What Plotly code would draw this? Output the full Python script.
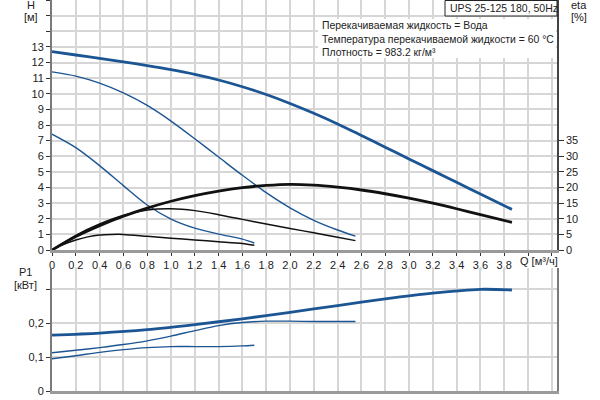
import plotly.graph_objects as go

# ---------------- data ----------------
q_h_max = [0, 0.2, 0.4, 0.6, 0.8, 1.0, 1.2, 1.4, 1.6, 1.8, 2.0, 2.2, 2.4, 2.6, 2.8, 3.0, 3.2, 3.4, 3.6, 3.865]
h_max = [12.7, 12.48, 12.26, 12.04, 11.80, 11.54, 11.24, 10.88, 10.45, 9.95, 9.38, 8.75, 8.07, 7.33, 6.58, 5.83, 5.08, 4.33, 3.58, 2.6]

q_h_mid = [0, 0.2, 0.4, 0.6, 0.8, 1.0, 1.2, 1.4, 1.6, 1.8, 2.0, 2.2, 2.4, 2.55]
h_mid = [11.4, 11.13, 10.68, 10.05, 9.25, 8.25, 7.12, 5.95, 4.78, 3.67, 2.70, 1.90, 1.28, 0.89]

q_h_low = [0, 0.2, 0.4, 0.6, 0.8, 1.0, 1.2, 1.4, 1.6, 1.7]
h_low = [7.41, 6.55, 5.4, 4.12, 2.88, 1.98, 1.4, 1.02, 0.7, 0.45]

q_eta_max = [0, 0.2, 0.4, 0.6, 0.8, 1.0, 1.2, 1.4, 1.6, 1.8, 2.0, 2.2, 2.4, 2.6, 2.8, 3.0, 3.2, 3.4, 3.6, 3.865]
eta_max = [0, 4.3, 7.8, 10.8, 13.4, 15.6, 17.4, 18.85, 19.95, 20.65, 21.0, 20.75, 20.1, 19.2, 18.0, 16.6, 15.0, 13.2, 11.3, 8.85]

q_eta_mid = [0, 0.2, 0.4, 0.6, 0.8, 1.0, 1.2, 1.4, 1.6, 1.8, 2.0, 2.2, 2.4, 2.55]
eta_mid = [0, 4.7, 8.3, 11.1, 12.8, 13.2, 12.6, 11.3, 9.8, 8.3, 6.9, 5.5, 4.1, 3.0]

q_eta_low = [0, 0.1, 0.2, 0.3, 0.4, 0.5, 0.6, 0.8, 1.0, 1.2, 1.4, 1.6, 1.7]
eta_low = [0, 1.8, 3.2, 4.2, 4.8, 5.0, 5.0, 4.4, 3.8, 3.2, 2.66, 2.1, 1.5]

q_p_max = [0, 0.4, 0.8, 1.2, 1.6, 2.0, 2.4, 2.8, 3.2, 3.6, 3.865]
p_max = [0.165, 0.171, 0.181, 0.196, 0.213, 0.232, 0.252, 0.272, 0.289, 0.300, 0.298]

q_p_mid = [0, 0.2, 0.4, 0.6, 0.8, 1.0, 1.2, 1.4, 1.6, 1.8, 2.0, 2.2, 2.4, 2.55]
p_mid = [0.113, 0.12, 0.128, 0.137, 0.148, 0.162, 0.178, 0.193, 0.202, 0.206, 0.206, 0.205, 0.205, 0.205]

q_p_low = [0, 0.2, 0.4, 0.6, 0.8, 1.0, 1.2, 1.4, 1.6, 1.7]
p_low = [0.095, 0.104, 0.114, 0.122, 0.128, 0.131, 0.131, 0.131, 0.133, 0.135]

x_ticks = [0, 0.2, 0.4, 0.6, 0.8, 1.0, 1.2, 1.4, 1.6, 1.8, 2.0, 2.2, 2.4, 2.6, 2.8, 3.0, 3.2, 3.4, 3.6, 3.8, 4.0, 4.2]
x_labels = ["0", "0,2", "0,4", "0,6", "0,8", "1,0", "1,2", "1,4", "1,6", "1,8", "2,0", "2,2", "2,4", "2,6",
            "2,8", "3,0", "3,2", "3,4", "3,6", "3,8", "", ""]
h_ticks = list(range(0, 17))
h_labels = [str(v) if v <= 13 else "" for v in h_ticks]
eta_ticks = [0, 5, 10, 15, 20, 25, 30, 35]
eta_labels = ["0", "5", "10", "15", "20", "25", "30", "35"]
p_ticks = [0, 0.1, 0.2, 0.3]
p_labels = ["0", "0,1", "0,2", ""]

title_box = "UPS 25-125 180, 50Hz"
info_lines = ["Перекачиваемая жидкость = Вода",
              "Температура перекачиваемой жидкости = 60 °C",
              "Плотность = 983.2 кг/м³"]

# ---------------- figure ----------------
BLUE = "#1c5593"
BLACK = "#111111"
GRID = "#d6d6d6"
FONT = "Liberation Sans, Arial, sans-serif"
W, H = 600, 400

def px(x):
    return x / W

def py(y):
    return 1 - y / H

fig = go.Figure()

def add(q, v, xa, ya, color, width):
    fig.add_trace(go.Scatter(x=q, y=v, xaxis=xa, yaxis=ya, mode="lines",
                             line=dict(color=color, width=width, shape="spline", smoothing=0.8),
                             hoverinfo="skip", showlegend=False))

add(q_h_max, h_max, "x", "y", BLUE, 2.8)
add(q_h_mid, h_mid, "x", "y", BLUE, 1.4)
add(q_h_low, h_low, "x", "y", BLUE, 1.4)
add(q_eta_max, eta_max, "x", "y2", BLACK, 2.8)
add(q_eta_mid, eta_mid, "x", "y2", BLACK, 1.5)
add(q_eta_low, eta_low, "x", "y2", BLACK, 1.5)
add(q_p_max, p_max, "x2", "y3", BLUE, 2.8)
add(q_p_mid, p_mid, "x2", "y3", BLUE, 1.4)
add(q_p_low, p_low, "x2", "y3", BLUE, 1.4)

x_dom = [px(52), px(557)]
x_rng = [0, (557 - 52) / 119.0]
top_dom = [py(250), 1.0]
bot_dom = [py(391), py(268)]

tickfont = dict(family=FONT, size=11, color="#222")

fig.update_layout(
    width=W, height=H,
    margin=dict(l=0, r=0, t=0, b=0),
    paper_bgcolor="white", plot_bgcolor="white",
    font=dict(family=FONT, size=11, color="#222"),
    xaxis=dict(domain=x_dom, range=x_rng, anchor="y", tickvals=x_ticks, ticktext=x_labels,
               showgrid=True, gridcolor=GRID, gridwidth=1.5, zeroline=False,
               showline=True, linecolor="#9a9a9a", linewidth=2.5,
               ticks="outside", ticklen=3, tickcolor="#333", tickfont=tickfont, automargin=False),
    yaxis=dict(domain=top_dom, range=[0, 16], anchor="x", tickvals=h_ticks, ticktext=h_labels,
               showgrid=True, gridcolor=GRID, gridwidth=1.5, zeroline=False,
               showline=True, linecolor="#7a7a7a", linewidth=2,
               ticks="outside", ticklen=4, tickcolor="#333", tickfont=tickfont, automargin=False),
    yaxis2=dict(overlaying="y", side="right", anchor="x", range=[0, 80], tickvals=eta_ticks,
                ticktext=eta_labels, showgrid=False, zeroline=False,
                showline=True, linecolor="#444", linewidth=1.5,
                ticks="outside", ticklen=5, tickcolor="#333", tickfont=tickfont, automargin=False),
    xaxis2=dict(domain=x_dom, range=x_rng, anchor="y3", tickvals=x_ticks, showticklabels=False,
                showgrid=True, gridcolor=GRID, gridwidth=1.5, zeroline=False,
                showline=True, linecolor="#9a9a9a", linewidth=2.5, ticks="", automargin=False),
    yaxis3=dict(domain=bot_dom, range=[0, (391 - 268) / 339.0], anchor="x2", tickvals=p_ticks,
                ticktext=p_labels, showgrid=True, gridcolor=GRID, gridwidth=1.5, zeroline=False,
                showline=True, linecolor="#7a7a7a", linewidth=2, mirror=True,
                ticks="outside", ticklen=4, tickcolor="#333", tickfont=tickfont, automargin=False),
)

shapes = [
    dict(type="rect", xref="paper", yref="paper", x0=px(318), x1=px(556), y0=py(58), y1=py(19),
         fillcolor="white", line=dict(width=0), layer="above"),
    dict(type="rect", xref="paper", yref="paper", x0=px(445), x1=px(557), y0=py(16), y1=py(0.5),
         fillcolor="white", line=dict(color="#222", width=1), layer="above"),
]
fig.update_layout(shapes=shapes)

ann = []
def text(x, y, s, xanchor="center", size=11):
    ann.append(dict(xref="paper", yref="paper", x=px(x), y=py(y), text=s, showarrow=False,
                    xanchor=xanchor, yanchor="middle", font=dict(family=FONT, size=size, color="#222")))

text(448, 8, title_box, xanchor="left", size=10.5)
for i, line in enumerate(info_lines):
    text(320, 26 + i * 13, line, xanchor="left", size=10.4)
text(31, 5, "H")
text(31, 17, "[м]")
text(579, 5, "eta")
text(579, 17, "[%]")
text(25, 272, "P1")
text(25, 285, "[кВт]")
text(518, 261, "Q [м³/ч]", xanchor="left")
fig.update_layout(annotations=ann)

fig.write_html("out.html", config={"displayModeBar": False},
               post_script="document.body.style.margin='0';document.body.style.overflow='hidden';")
